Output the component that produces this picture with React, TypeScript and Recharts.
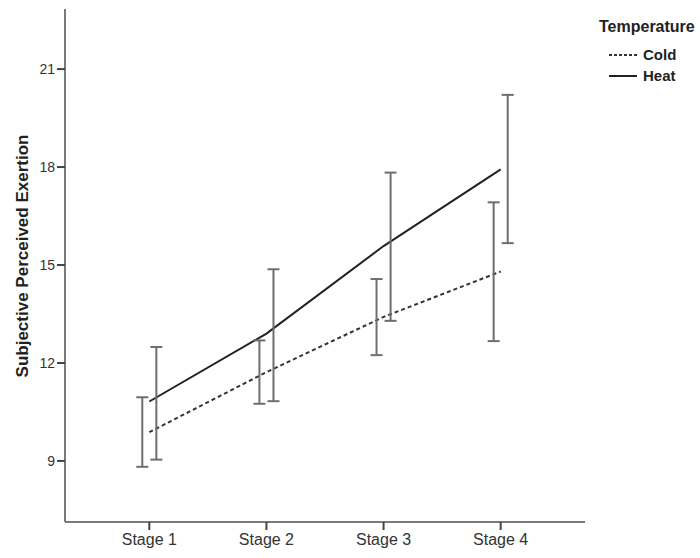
import {
  ComposedChart,
  Line,
  Scatter,
  ErrorBar,
  XAxis,
  YAxis,
  Legend,
  Label,
} from 'recharts';

const stages = ['Stage 1', 'Stage 2', 'Stage 3', 'Stage 4'];
const stageTicks = [1, 2, 3, 4];
const yTicks = [9, 12, 15, 18, 21];

const coldMean = [9.88, 11.72, 13.41, 14.8];
const coldLow = [8.82, 10.75, 12.24, 12.67];
const coldHigh = [10.95, 12.69, 14.57, 16.92];

const heatMean = [10.82, 12.9, 15.58, 17.93];
const heatLow = [9.04, 10.83, 13.29, 15.67];
const heatHigh = [12.49, 14.87, 17.83, 20.21];

const font = '"Liberation Sans", Arial, sans-serif';

// error bars sit a little left (cold) / right (heat) of the category
const barShift = 0.06;

const lineRows = (mean: number[]) => mean.map((y, i) => ({ x: stageTicks[i], y }));

const barRows = (mean: number[], low: number[], high: number[], shift: number) =>
  mean.map((y, i) => ({
    x: stageTicks[i] + shift,
    y,
    err: [y - low[i], high[i] - y],
  }));

const coldLine = lineRows(coldMean);
const heatLine = lineRows(heatMean);
const coldBars = barRows(coldMean, coldLow, coldHigh, -barShift);
const heatBars = barRows(heatMean, heatLow, heatHigh, barShift);

const renderLegend = () => (
  <div style={{ fontFamily: font, fontWeight: 'bold', color: '#222', textAlign: 'left' }}>
    <div style={{ fontSize: 16, lineHeight: '22px', marginBottom: 6, whiteSpace: 'nowrap' }}>Temperature</div>
    <div style={{ display: 'flex', alignItems: 'center', fontSize: 15, lineHeight: '21px', marginLeft: 10 }}>
      <svg width={28} height={4} style={{ marginRight: 6 }}>
        <line x1={0} y1={2} x2={28} y2={2} stroke="#333" strokeWidth={2} strokeDasharray="3 2" />
      </svg>
      Cold
    </div>
    <div style={{ display: 'flex', alignItems: 'center', fontSize: 15, lineHeight: '21px', marginLeft: 10 }}>
      <svg width={28} height={4} style={{ marginRight: 6 }}>
        <line x1={0} y1={2} x2={28} y2={2} stroke="#222" strokeWidth={2} />
      </svg>
      Heat
    </div>
  </div>
);

export default function App() {
  return (
    <div style={{ position: 'absolute', left: 0, top: 0, background: '#fff' }}>
      <ComposedChart
        width={700}
        height={558}
        margin={{ top: 9, right: 115, bottom: 0, left: 0 }}
        style={{ fontFamily: font }}
      >
        <XAxis
          dataKey="x"
          type="number"
          domain={[0.28, 4.72]}
          allowDataOverflow
          ticks={stageTicks}
          tickFormatter={(v: number) => stages[v - 1]}
          height={36}
          tickSize={8}
          tickMargin={4}
          axisLine={{ stroke: '#7a7a7a', strokeWidth: 2 }}
          tickLine={{ stroke: '#444', strokeWidth: 2 }}
          tick={{ fill: '#333', fontSize: 16 }}
        />
        <YAxis
          type="number"
          domain={[7.13, 22.84]}
          allowDataOverflow
          ticks={yTicks}
          width={65}
          tickSize={8}
          tickMargin={2}
          axisLine={{ stroke: '#7a7a7a', strokeWidth: 2 }}
          tickLine={{ stroke: '#444', strokeWidth: 2 }}
          tick={{ fill: '#333', fontSize: 14 }}
        >
          <Label
            content={() => (
              <text
                x={22}
                y={256}
                transform="rotate(-90 22 256)"
                textAnchor="middle"
                dominantBaseline="central"
                fontFamily={font}
                fontWeight="bold"
                fontSize={17}
                fill="#222"
              >
                Subjective Perceived Exertion
              </text>
            )}
          />
        </YAxis>
        <Legend
          layout="horizontal"
          verticalAlign="middle"
          align="center"
          content={renderLegend}
          wrapperStyle={{ position: 'absolute', top: 16, left: 599, width: 100 }}
        />
        <Line
          data={coldLine}
          dataKey="y"
          name="Cold"
          stroke="#333"
          strokeWidth={2}
          strokeDasharray="4 3"
          dot={false}
          activeDot={false}
          isAnimationActive={false}
        />
        <Line
          data={heatLine}
          dataKey="y"
          name="Heat"
          stroke="#222"
          strokeWidth={2}
          dot={false}
          activeDot={false}
          isAnimationActive={false}
        />
        <Scatter
          data={coldBars}
          dataKey="y"
          name="Cold CI"
          shape={() => <g />}
          isAnimationActive={false}
        >
          <ErrorBar dataKey="err" direction="y" width={6} stroke="#6e6e6e" strokeWidth={2} isAnimationActive={false} />
        </Scatter>
        <Scatter
          data={heatBars}
          dataKey="y"
          name="Heat CI"
          shape={() => <g />}
          isAnimationActive={false}
        >
          <ErrorBar dataKey="err" direction="y" width={6} stroke="#6e6e6e" strokeWidth={2} isAnimationActive={false} />
        </Scatter>
      </ComposedChart>
    </div>
  );
}
